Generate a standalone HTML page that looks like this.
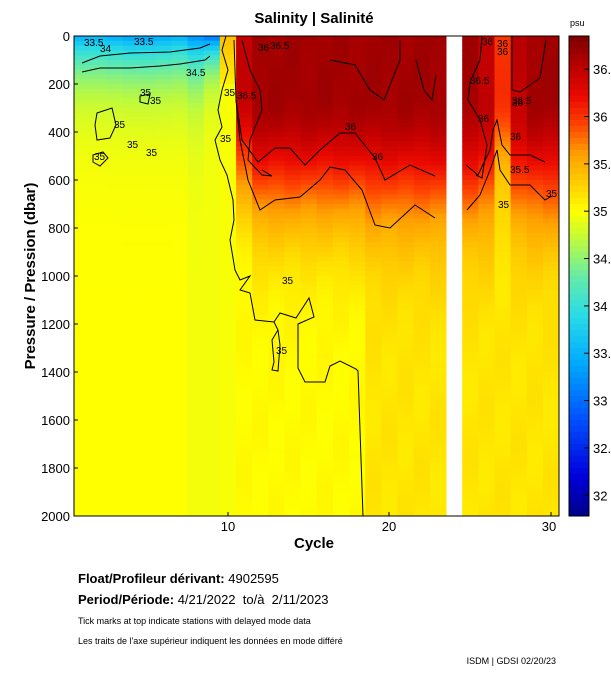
<!DOCTYPE html>
<html><head><meta charset="utf-8"><style>
body{margin:0;background:#fff;width:611px;height:675px;overflow:hidden;font-family:"Liberation Sans",sans-serif}
svg text{font-family:"Liberation Sans",sans-serif}
</style></head><body>
<svg id="s" width="611" height="675" xmlns="http://www.w3.org/2000/svg">
<g id="cells"></g>
<g id="cb"></g>
<g fill="none" stroke="#000" stroke-width="1">
<polyline points="226,36 222,50 228,70 222,90 218,110 222,127 215,140 220,160 227,175 233,200 234,220 230,240 235,270 240,280 250,276 240,290 250,293 255,320 274,322 280,313 296,318 309,298 314,317 298,324 298,368 305,382 325,382 330,366 340,361 356,369 358,371 360,430 363,516"/>
<path d="M274,322 L278,330 L272,340 L274,362 L272,370 L278,371 L280,345 L278,330 Z"/>
<polyline points="234,40 236,100 242,140 258,162 275,148 290,148 305,165 320,150 340,133 355,133 375,158 385,180 410,165 435,176"/>
<polyline points="236,100 240,140 248,180 260,210 275,200 300,197 320,180 330,167 345,170 362,190 375,225 390,228 415,205 435,218"/>
<polyline points="242,40 250,70 260,90 262,110 250,140 248,160 262,175 272,176 262,170"/>
<polyline points="330,60 355,65 370,90 384,100 400,60 400,40"/>
<polyline points="416,60 424,90 432,100 436,75"/>
<polyline points="82,63 100,56 130,53 170,52 200,48 210,44"/>
<polyline points="82,72 100,68 130,68 160,66 180,64 205,60 210,56"/>
<path d="M97,113 L112,108 L116,125 L110,138 L97,140 L95,125 Z"/>
<path d="M93,155 L103,152 L108,158 L100,166 L93,162 Z"/>
<path d="M140,96 L150,94 L148,104 L140,102 Z"/>
<polyline points="482,36 480,60 470,82 468,100 480,120 487,145 482,178 476,175"/>
<polyline points="466,165 478,175 490,150 493,130 497,120 502,145 510,155 530,155 545,162"/>
<polyline points="467,210 480,195 490,170 497,150 500,170 510,185 530,185 545,200 552,196"/>
<polyline points="512,36 512,90 520,92 540,78 546,40"/>
</g>
<g font-size="10" fill="#000">
<text x="84" y="46">33.5</text><text x="100" y="52">34</text><text x="134" y="45">33.5</text>
<text x="186" y="76">34.5</text><text x="140" y="96">35</text><text x="150" y="104">35</text>
<text x="114" y="128">35</text><text x="94" y="160">35</text><text x="127" y="148">35</text><text x="146" y="156">35</text>
<text x="224" y="96">35</text><text x="237" y="99">36.5</text><text x="220" y="142">35</text>
<text x="258" y="51">36</text><text x="270" y="49">36.5</text><text x="345" y="130">36</text><text x="372" y="160">36</text>
<text x="282" y="284">35</text><text x="276" y="354">35</text>
<text x="482" y="45">36</text><text x="497" y="47">36</text><text x="497" y="55">36</text>
<text x="470" y="84">36.5</text><text x="512" y="106">36</text><text x="512" y="104">36.5</text>
<text x="478" y="122">36</text><text x="510" y="140">36</text><text x="510" y="173">35.5</text><text x="498" y="208">35</text>
<text x="546" y="197">35</text>
</g>
<rect x="74" y="36" width="485" height="480" fill="none" stroke="#000"/>
<rect x="569" y="36" width="20" height="480" fill="none" stroke="#000"/>
<text x="314" y="23" font-size="15" font-weight="bold" text-anchor="middle">Salinity | Salinité</text>
<text x="570" y="26" font-size="9">psu</text>
<g font-size="13" text-anchor="end" id="yl"></g>
<g font-size="13" id="cl"></g>
<g font-size="13" text-anchor="middle">
<text x="228" y="531">10</text><text x="389" y="531">20</text><text x="549" y="531">30</text></g>
<line x1="228" x2="228" y1="512" y2="516" stroke="#000"/><line x1="389" x2="389" y1="512" y2="516" stroke="#000"/><line x1="551" x2="551" y1="512" y2="516" stroke="#000"/>
<text x="314" y="548" font-size="15" font-weight="bold" text-anchor="middle">Cycle</text>
<text transform="translate(35,276) rotate(-90)" font-size="15" font-weight="bold" text-anchor="middle">Pressure / Pression (dbar)</text>
<text x="78" y="583" font-size="13"><tspan font-weight="bold">Float/Profileur dérivant:</tspan> 4902595</text>
<text x="78" y="604" font-size="13"><tspan font-weight="bold">Period/Période:</tspan> 4/21/2022&#160; to/à&#160; 2/11/2023</text>
<text x="78" y="624" font-size="9">Tick marks at top indicate stations with delayed mode data</text>
<text x="78" y="644" font-size="9">Les traits de l'axe supérieur indiquent les données en mode différé</text>
<text x="556" y="664" font-size="9" text-anchor="end">ISDM | GDSI 02/20/23</text>
</svg>
<script>
var st=[[31.75,[0,0,130]],[32.2,[0,0,220]],[32.8,[0,80,255]],[33.4,[0,170,255]],[33.9,[40,220,230]],[34.3,[100,235,170]],[34.7,[190,250,60]],[35,[255,255,0]],[35.3,[255,205,0]],[35.6,[255,160,0]],[35.9,[255,70,0]],[36.2,[235,10,0]],[36.5,[190,0,0]],[36.85,[125,0,0]]];
function col(s){if(s<=st[0][0])return st[0][1];for(var i=1;i<st.length;i++){if(s<=st[i][0]){var a=st[i-1],b=st[i],t=(s-a[0])/(b[0]-a[0]);return [0,1,2].map(k=>Math.round(a[1][k]+t*(b[1][k]-a[1][k])));}}return st[st.length-1][1];}
function rgb(c){return 'rgb('+c.join(',')+')';}
function S(c,p){
 if(c<=9){var top=33.4+0.08*Math.sin(c);if(c==9)top=33.0;if(c==8)top=33.2;var deep=(c>=8)?34.95:35.0;return deep-(deep-top)*Math.exp(-p/(c==9?110:160));}
 if(c==10)return p<200?35.4-0.3*p/200:34.97;
 var deep=c<=18?35.02:35.15;
 if(c>=25)deep=35.15;
 var amp=36.65-deep, d=470;
 if(c==11){amp-=0.2;d=380;}
 if(c==27){amp=36.0-deep;d=300;}
 if(c==26||c==28){amp-=0.15;}
 var v=p<250?deep+amp:deep+amp*Math.exp(-Math.pow((p-250)/d,2));
 return v+0.03*Math.sin(c*2.3+p/90);
}
var g='',x0=228,w=16.15;
for(var c=1;c<=30;c++){if(c==24)continue;var xa=c==1?74:x0+w*(c-10.5),xb=Math.min(559,x0+w*(c-9.5));
 for(var p=0;p<2000;p+=20){var y=36+p*0.24;g+='<rect x="'+xa.toFixed(1)+'" y="'+y.toFixed(1)+'" width="'+(xb-xa+0.5).toFixed(1)+'" height="5.3" fill="'+rgb(col(S(c,p+10)))+'"/>';}}
document.getElementById('cells').innerHTML=g;
var cb='';for(var y=36;y<516;y+=6){var s=36.85-(y+3-36)/94.7;cb+='<rect x="569" y="'+y+'" width="20" height="6" fill="'+rgb(col(s))+'"/>';}
document.getElementById('cb').innerHTML=cb;
var yl='';for(var p=0;p<=2000;p+=200){var y=36+p*0.24;yl+='<text x="70" y="'+(y+5)+'">'+p+'</text><line x1="74" x2="78" y1="'+y+'" y2="'+y+'" stroke="#000"/>';}
document.getElementById('yl').innerHTML=yl;
var cl='';[32,32.5,33,33.5,34,34.5,35,35.5,36,36.5].forEach(function(s){var y=36+(36.85-s)*94.7;cl+='<line x1="584" x2="589" y1="'+y+'" y2="'+y+'" stroke="#000"/><text x="593" y="'+(y+5)+'">'+s+'</text>';});
document.getElementById('cl').innerHTML=cl;
</script>
</body></html>
